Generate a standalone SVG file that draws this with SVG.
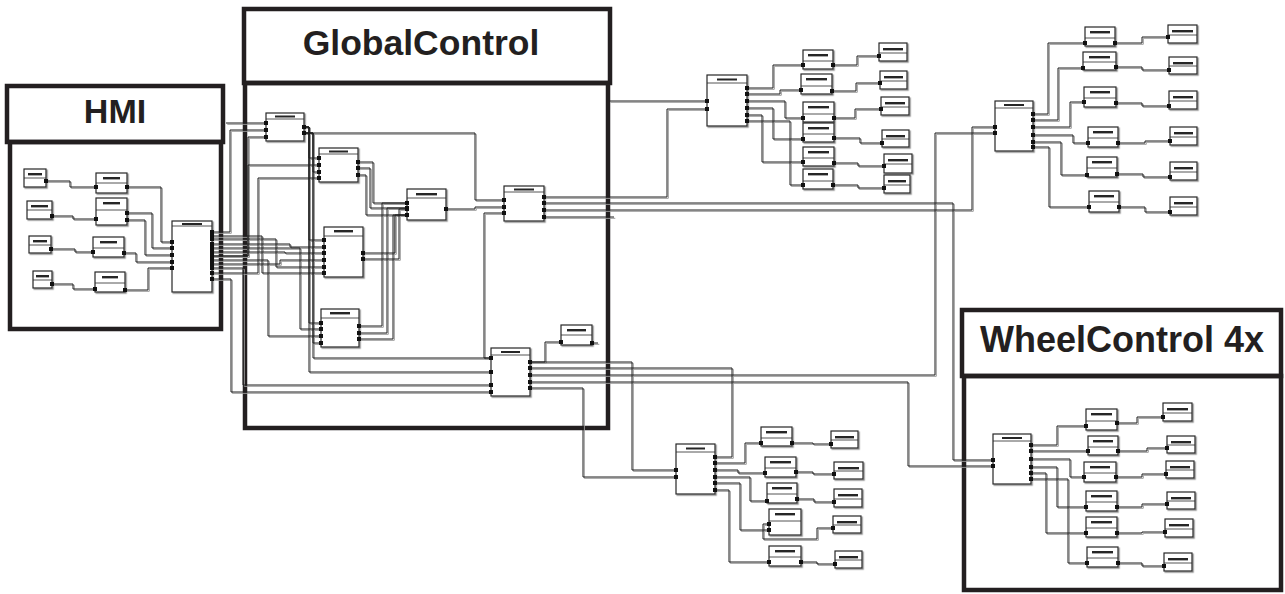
<svg xmlns="http://www.w3.org/2000/svg" xmlns:xlink="http://www.w3.org/1999/xlink" width="1285" height="594" viewBox="0 0 1285 594">
<style>
.frame{fill:none;stroke:#231f20;stroke-width:4.5}
.title{font-family:"Liberation Sans",Arial,sans-serif;font-weight:bold;fill:#231f20;text-anchor:middle}
.node{filter:url(#ds)}
.node .b{fill:#fff;stroke:#262626;stroke-width:1.2}
.node .t{fill:#262626}
.node path{fill:none;stroke:#2a2a2a;stroke-width:0.8}
#wires{fill:none}
.wsh{stroke:#9a9a9a;stroke-width:1}
.wmain{stroke:#1e1e1e;stroke-width:1;marker-start:url(#pt);marker-end:url(#pt)}
.nm{marker-end:none}
.ns{marker-start:none}
</style>
<defs>
<filter id="ds" x="-10%" y="-10%" width="130%" height="130%"><feDropShadow dx="1.2" dy="1.2" stdDeviation="0" flood-color="#8c8c8c"/></filter>
<marker id="pt" markerUnits="userSpaceOnUse" markerWidth="4" markerHeight="4" refX="2" refY="2" orient="auto"><rect width="4" height="4" fill="#111"/></marker>
<g id="wires">
<!-- HMI internal -->
<path d="M46,181H70V187H96"/>
<path d="M52,216H73V219H96"/>
<path d="M51,249H75V252H93"/>
<path d="M52,284H73V289H95"/>
<path d="M127,187H161V242H172"/>
<path d="M127,213H152V248H172"/>
<path d="M127,220H145V255H172"/>
<path d="M124,253H136V262H172"/>
<path d="M125,290H148V268H172"/>
<!-- HMI to GlobalControl -->
<path class="ns" d="M226,123H266"/>
<path d="M212,232H230V130H266"/>
<path d="M212,236H262V273H324"/>
<path d="M212,239H276V267H324"/>
<path d="M212,244H290V247H324"/>
<path d="M212,248H300V329H321"/>
<path d="M212,252H285V253H324"/>
<path d="M212,256H248V137H266"/>
<path d="M212,256H248V165H319"/>
<path d="M212,260H268V336H321"/>
<path d="M212,264H280V260H324"/>
<path d="M212,268H243V385H491"/>
<path d="M212,273H258V178H319"/>
<path d="M212,279H231V392H491"/>
<!-- GlobalControl internal -->
<path d="M304,127H309V372H491"/>
<path d="M304,127H309V158H319"/>
<path d="M304,127H309V240H324"/>
<path d="M304,127H309V323H321"/>
<path d="M304,133H475V200H504"/>
<path d="M304,133H313V358H491"/>
<path d="M304,133H313V172H319"/>
<path d="M304,133H313V343H321"/>
<path d="M358,162H373V203H407"/>
<path d="M358,168H370V208H407"/>
<path d="M358,175H366V215H407"/>
<path d="M363,253H395V215H407"/>
<path d="M363,259H399V209H407"/>
<path d="M359,326H382V203H407"/>
<path d="M359,333H387V208H407"/>
<path d="M359,339H393V215H407"/>
<path d="M446,209H475V207H504"/>
<path d="M491,358H484V213H504"/>
<path d="M530,362H545V342H561"/>
<path class="nm" d="M592,343H598"/>
<!-- GlobalControl outward -->
<path class="ns" d="M609,101H707"/>
<path d="M544,197H667V109H707"/>
<path d="M544,203H953V460H993"/>
<path d="M544,210H972V127H995"/>
<path class="nm" d="M544,217H614"/>
<path d="M530,362H632V470H676"/>
<path d="M530,368H732V457H715"/>
<path d="M530,375H935V133H995"/>
<path d="M530,382H908V466H993"/>
<path d="M530,388H583V477H676"/>
<!-- top middle cluster -->
<path d="M747,88H773V65H803"/>
<path d="M747,94H780V90H801"/>
<path d="M747,101H785V118H803"/>
<path d="M747,108H773V139H803"/>
<path d="M747,115H762V162H803"/>
<path d="M747,121H790V185H803"/>
<path d="M833,65H857V56H879"/>
<path d="M832,91H856V83H880"/>
<path d="M834,118H855V109H881"/>
<path d="M834,138H860V143H882"/>
<path d="M834,163H858V166H884"/>
<path d="M833,185H858V188H884"/>
<!-- top right cluster -->
<path d="M1033,114H1048V43H1085"/>
<path d="M1033,120H1058V68H1083"/>
<path d="M1033,127H1070V102H1084"/>
<path d="M1033,135H1073V143H1088"/>
<path d="M1033,142H1061V175H1087"/>
<path d="M1033,147H1049V207H1089"/>
<path d="M1115,43H1142V37H1168"/>
<path d="M1116,67H1142V70H1169"/>
<path d="M1116,103H1142V106H1169"/>
<path d="M1118,143H1145V141H1170"/>
<path d="M1117,174H1143V177H1170"/>
<path d="M1119,207H1145V212H1170"/>
<!-- bottom middle cluster -->
<path d="M715,463H745V443H761"/>
<path d="M715,470H738V473H765"/>
<path d="M715,477H750V501H767"/>
<path d="M715,483H740V530H769"/>
<path d="M715,490H729V562H769"/>
<path d="M769,524H763V539H817V528H833"/>
<path d="M792,443H813V444H831"/>
<path d="M796,472H813V474H834"/>
<path d="M797,499H814V502H834"/>
<path d="M801,562H817V564H835"/>
<!-- wheel control cluster -->
<path d="M1031,445H1057V426H1086"/>
<path d="M1031,451H1088"/>
<path d="M1031,459H1070V477H1084"/>
<path d="M1031,467H1057V507H1086"/>
<path d="M1031,473H1046V533H1086"/>
<path d="M1031,479H1068V563H1087"/>
<path d="M1117,423H1137V417H1163"/>
<path d="M1118,451H1147V448H1167"/>
<path d="M1116,477H1142V474H1166"/>
<path d="M1117,507H1142V504H1167"/>
<path d="M1117,533H1142V532H1165"/>
<path d="M1118,563H1142V566H1164"/>
</g>
</defs>
<rect width="1285" height="594" fill="#fff"/>

<g id="frames">
<g id="frame-hmi">
<rect class="frame" x="7" y="86" width="216" height="56"/>
<rect class="frame" x="10" y="142" width="211" height="187"/>
<text class="title" x="115" y="123" font-size="34">HMI</text>
</g>
<g id="frame-globalcontrol">
<rect class="frame" x="244" y="9" width="366" height="74"/>
<rect class="frame" x="245" y="83" width="363" height="345"/>
<text class="title" x="421" y="55" font-size="35.5">GlobalControl</text>
</g>
<g id="frame-wheelcontrol">
<rect class="frame" x="962" y="310" width="319" height="66"/>
<rect class="frame" x="964" y="376" width="317" height="214"/>
<text class="title" x="1122" y="352" font-size="36">WheelControl 4x</text>
</g>
</g>

<g id="nodes">
<g id="hmi-s1" class="node" transform="translate(24,169)"><rect class="b" width="22" height="18"/><rect class="t" x="4" y="4" width="14" height="2.4"/><path d="M0,9H22"/></g>
<g id="hmi-a1" class="node" transform="translate(96,173)"><rect class="b" width="31" height="20"/><rect class="t" x="7" y="4" width="17" height="2.4"/><path d="M0,10H31"/></g>
<g id="hmi-s2" class="node" transform="translate(27,201)"><rect class="b" width="25" height="18"/><rect class="t" x="4" y="4" width="17" height="2.4"/><path d="M0,9H25"/></g>
<g id="hmi-a2" class="node" transform="translate(96,198)"><rect class="b" width="31" height="27"/><rect class="t" x="7" y="4" width="17" height="2.4"/><path d="M0,12H31"/></g>
<g id="hmi-s3" class="node" transform="translate(29,236)"><rect class="b" width="22" height="17"/><rect class="t" x="4" y="4" width="14" height="2.4"/><path d="M0,9H22"/></g>
<g id="hmi-a3" class="node" transform="translate(93,237)"><rect class="b" width="31" height="20"/><rect class="t" x="7" y="4" width="17" height="2.4"/><path d="M0,11H31"/></g>
<g id="hmi-s4" class="node" transform="translate(33,271)"><rect class="b" width="19" height="17"/><rect class="t" x="3" y="4" width="13" height="2.4"/><path d="M0,9H19"/></g>
<g id="hmi-a4" class="node" transform="translate(95,272)"><rect class="b" width="30" height="20"/><rect class="t" x="7" y="4" width="16" height="2.4"/><path d="M0,11H30"/></g>
<g id="hmi-main" class="node" transform="translate(172,221)"><rect class="b" width="40" height="71"/><rect class="t" x="10" y="2" width="20" height="2"/><path d="M0,5H40"/></g>

<g id="gc-1" class="node" transform="translate(266,113)"><rect class="b" width="38" height="28"/><rect class="t" x="9" y="2.5" width="20" height="2"/><path d="M0,6H38"/></g>
<g id="gc-2" class="node" transform="translate(319,148)"><rect class="b" width="39" height="34"/><rect class="t" x="10" y="2.5" width="19" height="2"/><path d="M0,6H39"/></g>
<g id="gc-3" class="node" transform="translate(407,189)"><rect class="b" width="39" height="31"/><rect class="t" x="9" y="4" width="21" height="2.4"/><path d="M0,9H39"/></g>
<g id="gc-4" class="node" transform="translate(324,227)"><rect class="b" width="39" height="50"/><rect class="t" x="10" y="3" width="19" height="2.4"/><path d="M0,9H39"/></g>
<g id="gc-5" class="node" transform="translate(321,309)"><rect class="b" width="38" height="38"/><rect class="t" x="9" y="3" width="20" height="2.4"/><path d="M0,9H38"/></g>
<g id="gc-6" class="node" transform="translate(504,186)"><rect class="b" width="40" height="35"/><rect class="t" x="10" y="2.5" width="20" height="2"/><path d="M0,6H40"/></g>
<g id="gc-7" class="node" transform="translate(561,325)"><rect class="b" width="31" height="20"/><rect class="t" x="6" y="4" width="19" height="2.4"/><path d="M0,10H31"/></g>
<g id="gc-8" class="node" transform="translate(491,348)"><rect class="b" width="39" height="48"/><rect class="t" x="10" y="3" width="19" height="2"/><path d="M0,7H39"/></g>

<g id="tm-main" class="node" transform="translate(707,75)"><rect class="b" width="40" height="51"/><rect class="t" x="10" y="3.5" width="20" height="2"/><path d="M0,8H40"/></g>
<g id="tm-a1" class="node" transform="translate(803,50)"><rect class="b" width="30" height="19"/><rect class="t" x="5" y="4" width="20" height="2.4"/><path d="M0,11H30"/></g>
<g id="tm-a2" class="node" transform="translate(801,74)"><rect class="b" width="31" height="20"/><rect class="t" x="5" y="4" width="21" height="2.4"/><path d="M0,12H31"/></g>
<g id="tm-a3" class="node" transform="translate(803,102)"><rect class="b" width="31" height="20"/><rect class="t" x="5" y="4" width="21" height="2.4"/><path d="M0,12H31"/></g>
<g id="tm-a4" class="node" transform="translate(803,123)"><rect class="b" width="31" height="19"/><rect class="t" x="5" y="4" width="21" height="2.4"/><path d="M0,11H31"/></g>
<g id="tm-a5" class="node" transform="translate(803,147)"><rect class="b" width="31" height="19"/><rect class="t" x="5" y="4" width="21" height="2.4"/><path d="M0,11H31"/></g>
<g id="tm-a6" class="node" transform="translate(803,169)"><rect class="b" width="30" height="20"/><rect class="t" x="5" y="4" width="20" height="2.4"/><path d="M0,12H30"/></g>
<g id="tm-b1" class="node" transform="translate(879,43)"><rect class="b" width="28" height="18"/><rect class="t" x="4" y="5" width="20" height="2.4"/><path d="M0,10H28"/></g>
<g id="tm-b2" class="node" transform="translate(880,71)"><rect class="b" width="27" height="18"/><rect class="t" x="4" y="5" width="19" height="2.4"/><path d="M0,10H27"/></g>
<g id="tm-b3" class="node" transform="translate(881,97)"><rect class="b" width="28" height="18"/><rect class="t" x="4" y="5" width="20" height="2.4"/><path d="M0,10H28"/></g>
<g id="tm-b4" class="node" transform="translate(882,130)"><rect class="b" width="27" height="17"/><rect class="t" x="4" y="5" width="19" height="2.4"/><path d="M0,9H27"/></g>
<g id="tm-b5" class="node" transform="translate(884,154)"><rect class="b" width="28" height="19"/><rect class="t" x="4" y="5" width="20" height="2.4"/><path d="M0,10H28"/></g>
<g id="tm-b6" class="node" transform="translate(884,175)"><rect class="b" width="26" height="18"/><rect class="t" x="4" y="5" width="18" height="2.4"/><path d="M0,10H26"/></g>

<g id="tr-main" class="node" transform="translate(995,101)"><rect class="b" width="38" height="50"/><rect class="t" x="9" y="3" width="20" height="2"/><path d="M0,7H38"/></g>
<g id="tr-c1" class="node" transform="translate(1085,27)"><rect class="b" width="30" height="19"/><rect class="t" x="5" y="4" width="20" height="2.4"/><path d="M0,11H30"/></g>
<g id="tr-c2" class="node" transform="translate(1083,52)"><rect class="b" width="33" height="18"/><rect class="t" x="6" y="4" width="21" height="2.4"/><path d="M0,10H33"/></g>
<g id="tr-c3" class="node" transform="translate(1084,87)"><rect class="b" width="32" height="20"/><rect class="t" x="6" y="4" width="20" height="2.4"/><path d="M0,11H32"/></g>
<g id="tr-c4" class="node" transform="translate(1088,127)"><rect class="b" width="30" height="20"/><rect class="t" x="5" y="4" width="20" height="2.4"/><path d="M0,11H30"/></g>
<g id="tr-c5" class="node" transform="translate(1087,157)"><rect class="b" width="30" height="20"/><rect class="t" x="5" y="4" width="20" height="2.4"/><path d="M0,11H30"/></g>
<g id="tr-c6" class="node" transform="translate(1089,191)"><rect class="b" width="30" height="21"/><rect class="t" x="5" y="4" width="20" height="2.4"/><path d="M0,11H30"/></g>
<g id="tr-d1" class="node" transform="translate(1168,25)"><rect class="b" width="29" height="18"/><rect class="t" x="4" y="5" width="21" height="2.4"/><path d="M0,10H29"/></g>
<g id="tr-d2" class="node" transform="translate(1169,57)"><rect class="b" width="28" height="17"/><rect class="t" x="4" y="5" width="20" height="2.4"/><path d="M0,9H28"/></g>
<g id="tr-d3" class="node" transform="translate(1169,91)"><rect class="b" width="28" height="18"/><rect class="t" x="4" y="5" width="20" height="2.4"/><path d="M0,10H28"/></g>
<g id="tr-d4" class="node" transform="translate(1170,127)"><rect class="b" width="27" height="18"/><rect class="t" x="4" y="5" width="19" height="2.4"/><path d="M0,10H27"/></g>
<g id="tr-d5" class="node" transform="translate(1170,162)"><rect class="b" width="27" height="18"/><rect class="t" x="4" y="5" width="19" height="2.4"/><path d="M0,10H27"/></g>
<g id="tr-d6" class="node" transform="translate(1170,197)"><rect class="b" width="27" height="18"/><rect class="t" x="4" y="5" width="19" height="2.4"/><path d="M0,10H27"/></g>

<g id="bm-main" class="node" transform="translate(676,444)"><rect class="b" width="39" height="50"/><rect class="t" x="10" y="3.5" width="19" height="2"/><path d="M0,8H39"/></g>
<g id="bm-e1" class="node" transform="translate(761,427)"><rect class="b" width="31" height="19"/><rect class="t" x="5" y="4" width="21" height="2.4"/><path d="M0,11H31"/></g>
<g id="bm-e2" class="node" transform="translate(765,457)"><rect class="b" width="31" height="20"/><rect class="t" x="5" y="4" width="21" height="2.4"/><path d="M0,11H31"/></g>
<g id="bm-e3" class="node" transform="translate(767,483)"><rect class="b" width="30" height="20"/><rect class="t" x="5" y="4" width="20" height="2.4"/><path d="M0,11H30"/></g>
<g id="bm-e4" class="node" transform="translate(769,509)"><rect class="b" width="32" height="26"/><rect class="t" x="6" y="4" width="20" height="2.4"/><path d="M0,12H32"/></g>
<g id="bm-e5" class="node" transform="translate(769,546)"><rect class="b" width="32" height="20"/><rect class="t" x="6" y="4" width="20" height="2.4"/><path d="M0,11H32"/></g>
<g id="bm-f1" class="node" transform="translate(831,431)"><rect class="b" width="27" height="17"/><rect class="t" x="4" y="5" width="19" height="2.4"/><path d="M0,9H27"/></g>
<g id="bm-f2" class="node" transform="translate(834,462)"><rect class="b" width="29" height="17"/><rect class="t" x="4" y="5" width="21" height="2.4"/><path d="M0,9H29"/></g>
<g id="bm-f3" class="node" transform="translate(834,489)"><rect class="b" width="28" height="18"/><rect class="t" x="4" y="5" width="20" height="2.4"/><path d="M0,10H28"/></g>
<g id="bm-f4" class="node" transform="translate(833,516)"><rect class="b" width="28" height="17"/><rect class="t" x="4" y="5" width="20" height="2.4"/><path d="M0,9H28"/></g>
<g id="bm-f5" class="node" transform="translate(835,551)"><rect class="b" width="27" height="17"/><rect class="t" x="4" y="5" width="19" height="2.4"/><path d="M0,9H27"/></g>

<g id="wc-main" class="node" transform="translate(993,434)"><rect class="b" width="38" height="50"/><rect class="t" x="9" y="3" width="20" height="2"/><path d="M0,7H38"/></g>
<g id="wc-g1" class="node" transform="translate(1086,409)"><rect class="b" width="31" height="21"/><rect class="t" x="5" y="4" width="21" height="2.4"/><path d="M0,12H31"/></g>
<g id="wc-g2" class="node" transform="translate(1088,436)"><rect class="b" width="30" height="19"/><rect class="t" x="5" y="4" width="20" height="2.4"/><path d="M0,11H30"/></g>
<g id="wc-g3" class="node" transform="translate(1084,462)"><rect class="b" width="32" height="20"/><rect class="t" x="6" y="4" width="20" height="2.4"/><path d="M0,11H32"/></g>
<g id="wc-g4" class="node" transform="translate(1086,491)"><rect class="b" width="31" height="20"/><rect class="t" x="5" y="4" width="21" height="2.4"/><path d="M0,11H31"/></g>
<g id="wc-g5" class="node" transform="translate(1086,517)"><rect class="b" width="31" height="20"/><rect class="t" x="5" y="4" width="21" height="2.4"/><path d="M0,11H31"/></g>
<g id="wc-g6" class="node" transform="translate(1087,547)"><rect class="b" width="31" height="20"/><rect class="t" x="5" y="4" width="21" height="2.4"/><path d="M0,11H31"/></g>
<g id="wc-h1" class="node" transform="translate(1163,403)"><rect class="b" width="29" height="18"/><rect class="t" x="4" y="5" width="21" height="2.4"/><path d="M0,10H29"/></g>
<g id="wc-h2" class="node" transform="translate(1167,436)"><rect class="b" width="28" height="17"/><rect class="t" x="4" y="5" width="20" height="2.4"/><path d="M0,9H28"/></g>
<g id="wc-h3" class="node" transform="translate(1166,461)"><rect class="b" width="28" height="17"/><rect class="t" x="4" y="5" width="20" height="2.4"/><path d="M0,9H28"/></g>
<g id="wc-h4" class="node" transform="translate(1167,492)"><rect class="b" width="28" height="17"/><rect class="t" x="4" y="5" width="20" height="2.4"/><path d="M0,9H28"/></g>
<g id="wc-h5" class="node" transform="translate(1165,519)"><rect class="b" width="28" height="18"/><rect class="t" x="4" y="5" width="20" height="2.4"/><path d="M0,10H28"/></g>
<g id="wc-h6" class="node" transform="translate(1164,553)"><rect class="b" width="28" height="18"/><rect class="t" x="4" y="5" width="20" height="2.4"/><path d="M0,10H28"/></g>
</g>

<g id="connectors">
<use xlink:href="#wires" href="#wires" class="wsh" transform="translate(1.3,1.3)"/>
<use xlink:href="#wires" href="#wires" class="wmain"/>
</g>
</svg>
